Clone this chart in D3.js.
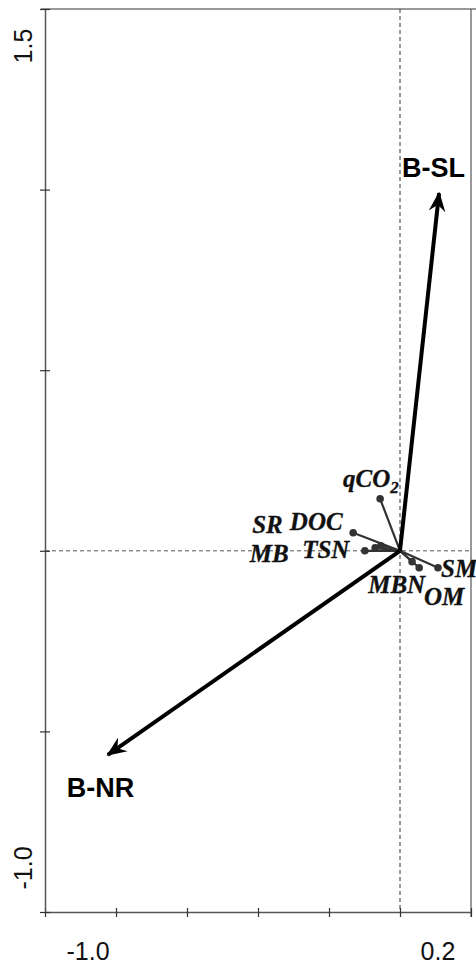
<!DOCTYPE html>
<html>
<head>
<meta charset="utf-8">
<script src="https://cdn.jsdelivr.net/npm/d3@7"></script>
<style>
  body { margin: 0; background: #fff; }
  svg { display: block; }
</style>
</head>
<body>
<script>
// treatment arrows (biplot scores)
var arrowNames = ["B-SL", "B-NR"];
var arrowX = [0.11, -0.823];
var arrowY = [0.99, -0.565];

// soil variables
var varNames = ["qCO2", "SR", "DOC", "TSN", "MB", "MBN", "OM", "SM"];
var varX = [-0.056, -0.132, -0.054, -0.07, -0.099, 0.054, 0.034, 0.107];
var varY = [0.144, 0.05, 0.014, 0.008, 0.0, -0.047, -0.03, -0.047];

var xTicks = [-1.0, -0.8, -0.6, -0.4, -0.2, 0, 0.2];
var yTicks = [-1.0, -0.5, 0, 0.5, 1.0, 1.5];
var xLabels = ["-1.0", "0.2"];
var yLabels = ["-1.0", "1.5"];

var W = 476, H = 965;
var padL = 45, padR = 471, padT = 9, padB = 912;

var x = d3.scaleLinear().domain([-1.0, 0.2]).range([padL, padR]);
var y = d3.scaleLinear().domain([-1.0, 1.5]).range([padB, padT]);

var svg = d3.select("body").append("svg")
  .attr("width", W)
  .attr("height", H);

var defs = svg.append("defs");
defs.append("marker")
  .attr("id", "head")
  .attr("viewBox", "0 0 12 10")
  .attr("refX", 11)
  .attr("refY", 5)
  .attr("markerWidth", 5)
  .attr("markerHeight", 5)
  .attr("markerUnits", "strokeWidth")
  .attr("orient", "auto")
  .append("path")
  .attr("d", "M0,0 L12,5 L0,10 L4,5 Z")
  .attr("fill", "#000");

// frame
svg.append("line").attr("x1", padL - 4).attr("x2", W).attr("y1", padT).attr("y2", padT)
  .attr("stroke", "#333").attr("stroke-width", 1.2);
svg.append("line").attr("x1", padR).attr("x2", padR).attr("y1", padT).attr("y2", padB + 5)
  .attr("stroke", "#555").attr("stroke-width", 1.2);

// zero lines
svg.append("line").attr("x1", x(0)).attr("x2", x(0)).attr("y1", padT).attr("y2", padB)
  .attr("stroke", "#333").attr("stroke-width", 1).attr("stroke-dasharray", "4,3");
svg.append("line").attr("x1", padL).attr("x2", padR).attr("y1", y(0)).attr("y2", y(0))
  .attr("stroke", "#555").attr("stroke-width", 1).attr("stroke-dasharray", "4,3");

// axes
var xAxis = svg.append("g")
  .attr("transform", "translate(0," + padB + ")")
  .call(d3.axisBottom(x).tickValues(xTicks).tickSize(5).tickSizeOuter(0).tickFormat(""));
var yAxis = svg.append("g")
  .attr("transform", "translate(" + padL + ",0)")
  .call(d3.axisLeft(y).tickValues(yTicks).tickSize(5).tickSizeOuter(0).tickFormat(""));
[xAxis, yAxis].forEach(function (g) {
  g.select(".domain").attr("stroke", "#555").attr("stroke-width", 1.5);
  g.selectAll(".tick line").attr("stroke", "#333").attr("stroke-width", 1.2);
});
xAxis.selectAll(".tick line").attr("y1", -4);
yAxis.selectAll(".tick line").attr("x1", 5);

// axis end labels
svg.selectAll(".xlab").data(xLabels).enter().append("text")
  .attr("class", "xlab")
  .attr("x", function (d, i) { return x(+d) + (i === 0 ? 43 : -33); })
  .attr("y", 960)
  .attr("text-anchor", "middle")
  .attr("font-family", "Liberation Sans, Arial, sans-serif")
  .attr("font-size", 25)
  .attr("fill", "#111")
  .text(function (d) { return d; });

svg.selectAll(".ylab").data(yLabels).enter().append("text")
  .attr("class", "ylab")
  .attr("transform", function (d, i) {
    var cy = y(+d) + (i === 0 ? -44 : 37);
    return "translate(32," + cy + ") rotate(-90)";
  })
  .attr("text-anchor", "middle")
  .attr("font-family", "Liberation Sans, Arial, sans-serif")
  .attr("font-size", 25)
  .attr("fill", "#111")
  .text(function (d) { return d; });

// variable vectors
var vars = varNames.map(function (n, i) { return { name: n, x: varX[i], y: varY[i] }; });
svg.selectAll(".vline").data(vars).enter().append("line")
  .attr("x1", x(0)).attr("y1", y(0))
  .attr("x2", function (d) { return x(d.x); })
  .attr("y2", function (d) { return y(d.y); })
  .attr("stroke", "#333")
  .attr("stroke-width", 2.2);
svg.selectAll(".vdot").data(vars).enter().append("circle")
  .attr("cx", function (d) { return x(d.x); })
  .attr("cy", function (d) { return y(d.y); })
  .attr("r", 3.8)
  .attr("fill", "#333");

// label placement relative to the point (layout only)
var labelShift = {
  "qCO2": [-37, -12], "SR": [-101, 0], "DOC": [-91, -16], "TSN": [-73, 10],
  "MB": [-115, 11], "MBN": [-51, 25], "OM": [12, 43], "SM": [3, 9]
};
var lab = svg.selectAll(".vlab").data(vars).enter().append("text")
  .attr("x", function (d) { return x(d.x) + labelShift[d.name][0]; })
  .attr("y", function (d) { return y(d.y) + labelShift[d.name][1]; })
  .attr("font-family", "Liberation Serif, Times New Roman, serif")
  .attr("font-style", "italic")
  .attr("font-weight", "bold")
  .attr("font-size", 25)
  .attr("fill", "#111")
  .attr("stroke", "#111")
  .attr("stroke-width", 0.3);
lab.each(function (d) {
  var t = d3.select(this);
  if (d.name === "qCO2") {
    t.append("tspan").text("qCO");
    t.append("tspan").attr("dy", 6).attr("font-size", 17).text("2");
  } else {
    t.text(d.name);
  }
});

// treatment arrows
var arrows = arrowNames.map(function (n, i) { return { name: n, x: arrowX[i], y: arrowY[i] }; });
svg.selectAll(".arrow").data(arrows).enter().append("line")
  .attr("x1", x(0)).attr("y1", y(0))
  .attr("x2", function (d) { return x(d.x); })
  .attr("y2", function (d) { return y(d.y); })
  .attr("stroke", "#000")
  .attr("stroke-width", 4)
  .attr("marker-end", "url(#head)");

var arrowShift = { "B-SL": [-37, -16], "B-NR": [-41, 42] };
svg.selectAll(".alab").data(arrows).enter().append("text")
  .attr("x", function (d) { return x(d.x) + arrowShift[d.name][0]; })
  .attr("y", function (d) { return y(d.y) + arrowShift[d.name][1]; })
  .attr("font-family", "Liberation Sans, Arial, sans-serif")
  .attr("font-weight", "bold")
  .attr("font-size", 27)
  .attr("fill", "#000")
  .text(function (d) { return d.name; });
</script>
</body>
</html>
